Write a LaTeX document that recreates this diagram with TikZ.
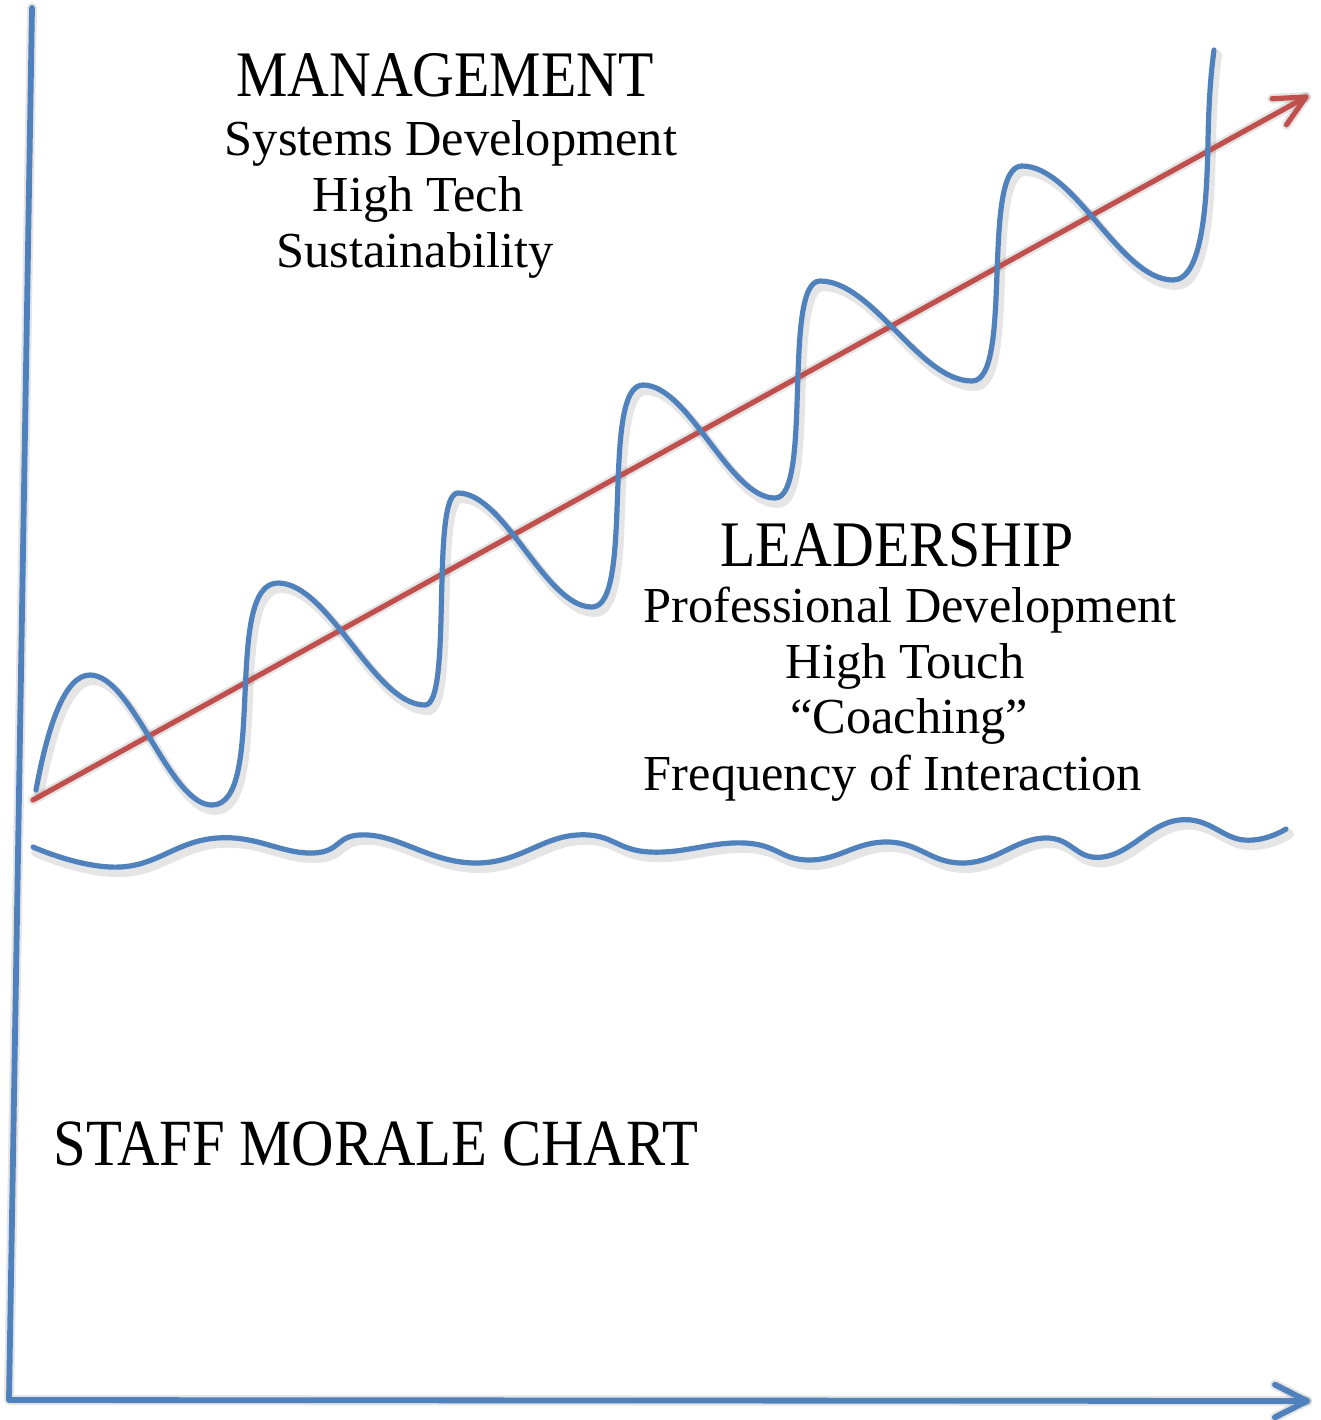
\documentclass[tikz,border=0pt]{standalone}
\usepackage{fontspec}
\setmainfont{Liberation Serif}
\newfontfamily\headfont[FakeStretch=0.89]{Liberation Serif}
\usetikzlibrary{calc}
\definecolor{chartblue}{RGB}{79,129,189}
\definecolor{chartred}{RGB}{192,80,77}
\newcommand\bigwavepath{(36,790) .. controls (48,725) and (65,675) .. (90,675)
 .. controls (133,675) and (169,805) .. (212,805)
 .. controls (268,805) and (222,583) .. (278,583)
 .. controls (329,583) and (374,705) .. (425,705)
 .. controls (453,705) and (430,493) .. (458,493)
 .. controls (505,493) and (545,607) .. (592,607)
 .. controls (635,607) and (600,385) .. (643,385)
 .. controls (689,385) and (729,498) .. (775,498)
 .. controls (813,498) and (782,281) .. (820,281)
 .. controls (873,281) and (919,381) .. (972,381)
 .. controls (1014,381) and (980,166) .. (1022,166)
 .. controls (1075,166) and (1120,280) .. (1173,280)
 .. controls (1203,280) and (1207,200) .. (1208,140)
 .. controls (1209,90) and (1212,65) .. (1214,50)}
\newcommand\lowwavepath{plot[smooth, tension=0.75] coordinates {(33,847) (120,867) (217,838) (312,853) (368,835) (476,863) (577,835) (650,852) (745,843) (810,860) (888,842) (964,863) (1044,838) (1103,857) (1179,820) (1244,840) (1286,829)}}
\begin{document}
\begin{tikzpicture}[x=0.5pt,y=-0.5pt,
  bluepen/.style={draw=chartblue, line width=2.9pt, line cap=round, line join=round},
  wavepen/.style={draw=chartblue, line width=2.6pt, line cap=round, line join=round},
  redpen/.style={draw=chartred, line width=2.6pt, line cap=round, line join=round},
  softshade/.style={draw=black, opacity=0.10, line width=5pt, line cap=round, line join=round, shift={(3,5)}},
  head/.style={anchor=base, inner sep=0pt, font=\headfont\fontsize{32.5pt}{39pt}\selectfont},
  sub/.style={anchor=base, inner sep=0pt, font=\fontsize{25.2pt}{30pt}\selectfont},
]
\fill[white] (0,0) rectangle (1321,1420);
\useasboundingbox (0,0) rectangle (1321,1420);

% coordinates
\coordinate (yTop) at (32,8);
\coordinate (origin) at (9,1400);
\coordinate (xEnd) at (1307,1401);
\coordinate (redStart) at (33,800);
\coordinate (redEnd) at (1306,97);

% shadows
\draw[softshade] (yTop) -- (origin) -- (xEnd);
\draw[softshade] ($(xEnd)!18pt!27:(origin)$) -- (xEnd) -- ($(xEnd)!18pt!-27:(origin)$);
\draw[softshade] (redStart) -- (redEnd);
\draw[softshade] ($(redEnd)!17pt!26:(redStart)$) -- (redEnd) -- ($(redEnd)!17pt!-26:(redStart)$);
\draw[softshade] \bigwavepath;
\draw[softshade] \lowwavepath;

% axes
\draw[bluepen] (yTop) -- (origin) -- (xEnd);
\draw[bluepen] ($(xEnd)!18pt!27:(origin)$) -- (xEnd) -- ($(xEnd)!18pt!-27:(origin)$);

% waves
\draw[wavepen] \lowwavepath;
\draw[redpen] (redStart) -- (redEnd);
\draw[redpen] ($(redEnd)!17pt!26:(redStart)$) -- (redEnd) -- ($(redEnd)!17pt!-26:(redStart)$);
\draw[wavepen] \bigwavepath;

% texts
\node[head] (mgmt) at (445,96) {MANAGEMENT};
\node[sub] (sys) at (451,155) {Systems Development};
\node[sub] (htech) at (418,211) {High Tech};
\node[sub] (sust) at (415,267) {Sustainability};
\node[head] (lead) at (897,566) {LEADERSHIP};
\node[sub] (prof) at (910,622) {Professional Development};
\node[sub] (htouch) at (905,678) {High Touch};
\node[sub] (coach) at (909,733) {“Coaching”};
\node[sub] (freq) at (893,790) {Frequency of Interaction};
\node[head, anchor=base west, font=\headfont\fontsize{33pt}{39pt}\selectfont] (staff) at (53,1165) {STAFF MORALE CHART};
\end{tikzpicture}
\end{document}
